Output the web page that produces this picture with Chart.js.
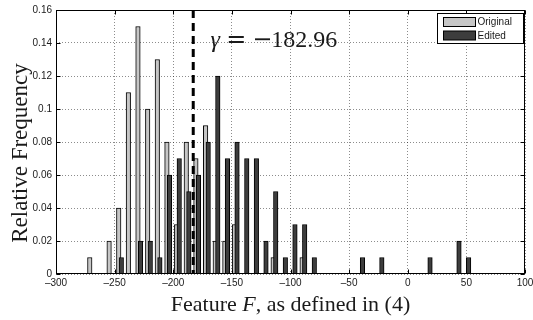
<!DOCTYPE html>
<html>
<head>
<meta charset="utf-8">
<script src="https://cdn.jsdelivr.net/npm/chart.js@4.4.1/dist/chart.umd.min.js"></script>
<style>
  html, body { margin: 0; padding: 0; background: #fff; }
</style>
</head>
<body>
<canvas id="histChart" width="533" height="320"></canvas>
<script>
// histogram bin centres (feature F)
const binCenters = [
  -270.1, -261.9, -253.6, -245.4, -237.2, -229.0, -220.7, -212.5, -204.3, -196.0,
  -187.8, -179.6, -171.3, -163.1, -154.9, -146.7, -138.4, -130.2, -122.0, -113.7,
  -105.5, -97.3, -89.0, -80.8, -72.6, -64.4, -56.1, -47.9, -39.7, -31.4,
  -23.2, -15.0, -6.7, 1.5, 9.7, 17.9, 26.2, 34.4, 42.6, 50.8
];
const originalFreq = [
  0.01, 0, 0.02, 0.04, 0.11, 0.15, 0.10, 0.13, 0.08, 0.03,
  0.08, 0.07, 0.09, 0.02, 0.02, 0.03, 0, 0, 0, 0.01,
  0, 0, 0.01, 0, 0, 0, 0, 0, 0, 0,
  0, 0, 0, 0, 0, 0, 0, 0, 0, 0
];
const editedFreq = [
  0, 0, 0, 0.01, 0, 0.02, 0.02, 0.01, 0.06, 0.07,
  0.05, 0.06, 0.08, 0.12, 0.07, 0.08, 0.07, 0.07, 0.02, 0.05,
  0.01, 0.03, 0.03, 0.01, 0, 0, 0, 0, 0.01, 0,
  0.01, 0, 0, 0, 0, 0.01, 0, 0, 0.02, 0.01
];
const xTicks = [-300, -250, -200, -150, -100, -50, 0, 50, 100];
const yTicks = [0, 0.02, 0.04, 0.06, 0.08, 0.1, 0.12, 0.14, 0.16];
const threshold = -182.96;

// the two bars of a bin sit slightly apart (data units)
const pairShift = 1.1;

function toPoints(freq, shift) {
  const pts = [];
  freq.forEach((v, i) => {
    if (v > 0) pts.push({ x: binCenters[i] + shift, y: v });
  });
  return pts;
}

const serif = '"Liberation Serif", "Times New Roman", serif';
const sans = '"Liberation Sans", Arial, Helvetica, sans-serif';
const textColor = '#1a1a1a';

const decor = {
  id: 'decor',
  afterDatasetsDraw(chart) {
    const { ctx, chartArea: a, scales: { x, y } } = chart;
    ctx.save();

    // threshold line
    const tx = x.getPixelForValue(threshold);
    ctx.strokeStyle = '#000';
    ctx.lineWidth = 3;
    ctx.setLineDash([8, 5]);
    ctx.beginPath();
    ctx.moveTo(tx, a.top);
    ctx.lineTo(tx, a.bottom);
    ctx.stroke();
    ctx.setLineDash([]);

    // axes box + inward ticks
    const L = Math.round(a.left) + 0.5, R = Math.round(a.right) - 0.5;
    const T = Math.round(a.top) + 0.5, B = Math.round(a.bottom) - 0.5;
    ctx.lineWidth = 1;
    ctx.strokeStyle = '#000';
    ctx.strokeRect(L, T, R - L, B - T);
    ctx.beginPath();
    xTicks.forEach(v => {
      const px = Math.round(x.getPixelForValue(v)) + 0.5;
      ctx.moveTo(px, B); ctx.lineTo(px, B - 4);
      ctx.moveTo(px, T); ctx.lineTo(px, T + 4);
    });
    yTicks.forEach(v => {
      const py = Math.round(y.getPixelForValue(v)) + 0.5;
      ctx.moveTo(L, py); ctx.lineTo(L + 4, py);
      ctx.moveTo(R, py); ctx.lineTo(R - 4, py);
    });
    ctx.stroke();

    // gamma annotation
    ctx.fillStyle = textColor;
    ctx.textBaseline = 'alphabetic';
    const base = a.top + 37;
    ctx.font = 'italic 24px ' + serif;
    ctx.textAlign = 'center';
    ctx.fillText('γ', tx + 22, base);
    ctx.font = '24px "DejaVu Serif", serif';
    ctx.fillText('=', tx + 43, base);
    ctx.fillText('−', tx + 69, base);
    ctx.font = '24px ' + serif;
    ctx.textAlign = 'left';
    ctx.fillText('182.96', tx + 78, base);

    // legend
    const lw = 86, lh = 30;
    const lx = Math.round(a.right) - 2 - lw + 0.5, ly = Math.round(a.top) + 3 + 0.5;
    ctx.fillStyle = '#fff';
    ctx.fillRect(lx, ly, lw, lh);
    ctx.strokeStyle = '#000';
    ctx.lineWidth = 1;
    ctx.strokeRect(lx, ly, lw, lh);
    ctx.font = '10px ' + sans;
    ctx.textAlign = 'left';
    ctx.textBaseline = 'middle';
    chart.data.datasets.forEach((ds, i) => {
      const sy = ly + 4 + i * 13.5;
      ctx.fillStyle = ds.backgroundColor;
      ctx.fillRect(lx + 6, sy, 32, 9);
      ctx.strokeRect(lx + 6, sy, 32, 9);
      ctx.fillStyle = textColor;
      ctx.fillText(ds.label, lx + 40, sy + 5);
    });

    // axis titles
    ctx.fillStyle = textColor;
    ctx.textBaseline = 'alphabetic';
    ctx.font = '22px ' + serif;
    const p1 = 'Feature ', p2 = 'F', p3 = ', as defined in (4)';
    const w1 = ctx.measureText(p1).width, w3 = ctx.measureText(p3).width;
    ctx.font = 'italic 22px ' + serif;
    const w2 = ctx.measureText(p2).width;
    let sx = (a.left + a.right) / 2 - (w1 + w2 + w3) / 2;
    const ty = a.bottom + 37;
    ctx.textAlign = 'left';
    ctx.font = '22px ' + serif;
    ctx.fillText(p1, sx, ty);
    ctx.font = 'italic 22px ' + serif;
    ctx.fillText(p2, sx + w1, ty);
    ctx.font = '22px ' + serif;
    ctx.fillText(p3, sx + w1 + w2, ty);

    ctx.translate(27, (a.top + a.bottom) / 2 + 11);
    ctx.rotate(-Math.PI / 2);
    ctx.textAlign = 'center';
    ctx.font = '23px ' + serif;
    ctx.fillText('Relative Frequency', 0, 0);

    ctx.restore();
  }
};

new Chart(document.getElementById('histChart'), {
  type: 'bar',
  data: {
    datasets: [
      {
        label: 'Original',
        data: toPoints(originalFreq, -pairShift),
        backgroundColor: '#c6c6c6',
        borderColor: '#000',
        borderWidth: 1,
        grouped: false,
        barThickness: 4.5,
        order: 1
      },
      {
        label: 'Edited',
        data: toPoints(editedFreq, pairShift),
        backgroundColor: '#3d3d3d',
        borderColor: '#000',
        borderWidth: 1,
        grouped: false,
        barThickness: 4.5,
        order: 0
      }
    ]
  },
  options: {
    responsive: false,
    animation: false,
    devicePixelRatio: 1,
    layout: { padding: { left: 0, right: 8, top: 10, bottom: 0 } },
    plugins: {
      legend: { display: false },
      tooltip: { enabled: false }
    },
    scales: {
      x: {
        type: 'linear',
        min: -300,
        max: 100,
        offset: false,
        afterBuildTicks: s => { s.ticks = xTicks.map(v => ({ value: v })); },
        afterFit: s => { s.height = 46; s.paddingLeft = 0; s.paddingRight = 0; },
        grid: { offset: false, drawTicks: false, color: 'rgba(0,0,0,0.45)', lineWidth: 1 },
        border: { display: false, dash: [1, 2] },
        ticks: {
          padding: 3,
          color: textColor,
          font: { family: sans, size: 10 },
          maxRotation: 0,
          callback: v => (v < 0 ? '–' + Math.abs(v) : String(v))
        }
      },
      y: {
        min: 0,
        max: 0.16,
        afterBuildTicks: s => { s.ticks = yTicks.map(v => ({ value: v })); },
        afterFit: s => { s.width = 56; s.paddingTop = 0; s.paddingBottom = 0; },
        grid: { drawTicks: false, color: 'rgba(0,0,0,0.45)', lineWidth: 1 },
        border: { display: false, dash: [1, 2] },
        ticks: {
          padding: 4,
          color: textColor,
          font: { family: sans, size: 10 },
          callback: v => (v === 0 ? '0' : String(+v.toFixed(2)))
        }
      }
    }
  },
  plugins: [decor]
});
</script>
</body>
</html>
